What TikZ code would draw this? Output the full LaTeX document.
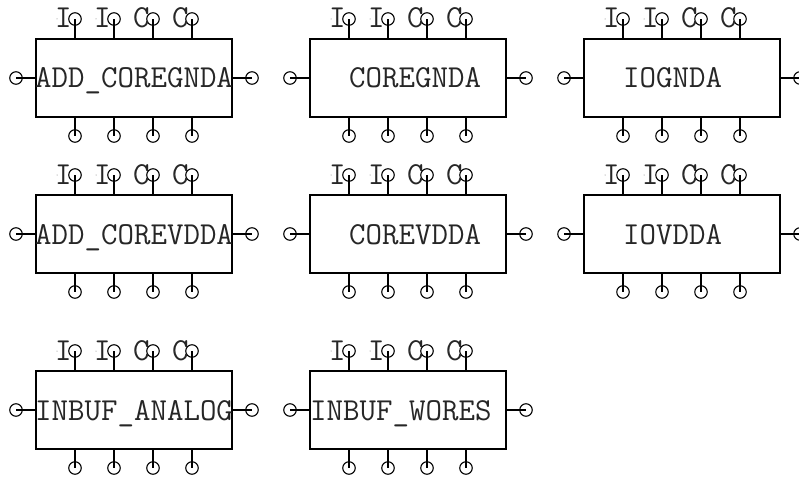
\documentclass[tikz,border=0pt]{standalone}
\tikzset{
  x=1pt,y=-1pt,
  chipbox/.style={draw,line width=1.1pt,minimum width=196pt,minimum height=78pt,inner sep=0pt,outer sep=0pt},
  pinring/.style={draw,circle,line width=1.1pt,minimum size=12.5pt,inner sep=0pt,outer sep=0pt},
  stem/.style={line width=1.1pt},
  chiptext/.style={font=\fontsize{32}{32}\selectfont\ttfamily,anchor=base west,inner sep=0pt,text=black!85},
  pintext/.style={font=\fontsize{32}{32}\selectfont\ttfamily,anchor=base west,inner sep=0pt,text=black!85},
  speck/.style={fill=black!55,circle,inner sep=0pt,minimum size=1pt}
}
% #1 id, #2 x, #3 y, #4 text, #5 text x offset
\newcommand{\chipunit}[5]{%
  \node[chipbox,anchor=north west] (#1) at (#2,#3) {};
  \node[chiptext] (#1txt) at (#2+#5,#3+49) {#4};
  \node[pinring] (#1L) at (#2-20,#3+39) {};
  \node[pinring] (#1R) at (#2+216,#3+39) {};
  \draw[stem] (#1.west) -- (#1L.center);
  \draw[stem] (#1.east) -- (#1R.center);
  \foreach \k/\off/\lab in {1/39/I,2/78/I,3/117/C,4/156/C}{
    \coordinate (#1t\k) at (#2+\off,#3);
    \coordinate (#1b\k) at (#2+\off,#3+78);
    \node[pinring] (#1T\k) at (#2+\off,#3-20) {};
    \node[pinring] (#1B\k) at (#2+\off,#3+97) {};
    \draw[stem] (#1t\k) -- (#1T\k.center);
    \draw[stem] (#1b\k) -- (#1B\k.center);
    \node[pintext] (#1P\k) at (#2+\off-20,#3-11) {\lab};
    \node[speck] (#1S\k) at (#2+\off-18,#3-20) {};
  }
}
\begin{document}
\begin{tikzpicture}
\useasboundingbox (0,0) rectangle (799,481);
\clip (0,0) rectangle (799,481);
\chipunit{a}{36}{39}{ADD\_COREGNDA}{-1}
\chipunit{b}{310}{39}{COREGNDA}{39}
\chipunit{c}{584}{39}{IOGNDA}{39}
\chipunit{d}{36}{195}{ADD\_COREVDDA}{-1}
\chipunit{e}{310}{195}{COREVDDA}{39}
\chipunit{f}{584}{195}{IOVDDA}{39}
\chipunit{g}{36}{371}{INBUF\_ANALOG}{-1}
\chipunit{h}{310}{371}{INBUF\_WORES}{0}
\end{tikzpicture}
\end{document}
